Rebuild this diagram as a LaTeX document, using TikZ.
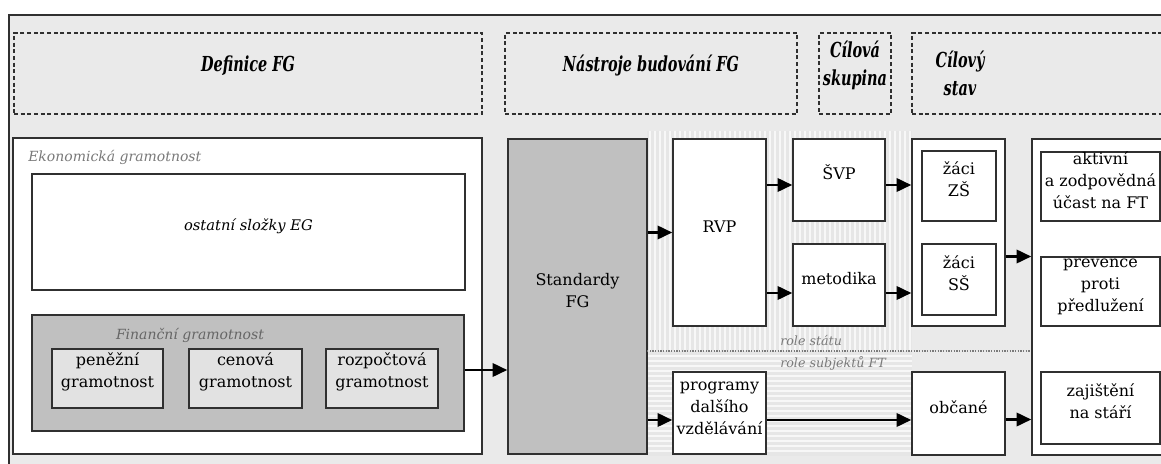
\documentclass[tikz,border=0pt]{standalone}
\usepackage{fontspec}
\setmainfont{DejaVu Serif}
\newfontfamily\hdrfamily[FakeStretch=0.7]{DejaVu Serif}
\usetikzlibrary{fit,arrows.meta,calc}
\definecolor{bgc}{HTML}{EAEAEA}
\definecolor{stripebg}{HTML}{E6E6E6}
\definecolor{stripeln}{HTML}{F7F7F7}
\definecolor{boxline}{HTML}{303030}
\definecolor{stdgrey}{HTML}{C0C0C0}
\definecolor{subgrey}{HTML}{E2E2E2}
\definecolor{labgrey}{HTML}{7A7A7A}
\definecolor{findark}{HTML}{666666}
\tikzset{fgtip/.tip={Triangle[length=11pt,width=10pt]}}
\begin{document}
\begin{tikzpicture}[x=0.75pt,y=-0.75pt,
  rect/.style={draw=boxline, line width=1.1pt, fill=white, inner sep=0pt, align=center,
    font=\fontsize{12}{16.5}\selectfont},
  hdr/.style={draw=boxline, line width=0.8pt, dash pattern=on 3pt off 2pt, fill=bgc,
    inner sep=0pt, align=center, font=\hdrfamily\bfseries\itshape\fontsize{15.5}{21}\selectfont},
  hdrtext/.style={align=center, font=\hdrfamily\bfseries\itshape\fontsize{15.5}{21}\selectfont},
  greylab/.style={text=labgrey, font=\itshape\fontsize{10.5}{12}\selectfont, inner sep=0pt},
  rolelab/.style={text=labgrey, font=\itshape\fontsize{9.5}{11}\selectfont, inner sep=0pt, anchor=west},
  arr/.style={draw=black, line width=1.9pt, -fgtip}
]
\useasboundingbox (0,0) rectangle (1161,464);
% background and frame
\fill[bgc] (9,15) rectangle (1161,464);
\draw[boxline, line width=1.1pt] (9,464) -- (9,15) -- (1161,15);
% striped zones
\fill[stripebg] (647,131) rectangle (912,351);
\foreach \x in {650,655,...,910} \draw[stripeln, line width=1.2pt] (\x,131) -- (\x,351);
\fill[stripebg] (647,351) rectangle (912,456);
\foreach \y in {356,361,...,455} \draw[stripeln, line width=1.2pt] (647,\y) -- (912,\y);

% headers
\node[hdr, fit={(14,33)(482,114)}] (h1) {Definice FG};
\node[hdr, fit={(505,33)(797,114)}] (h2) {Nástroje budování FG};
\node[hdr, fit={(819,33)(891,114)}] (h3) {Cílová\\skupina};
\node[hdr, fit={(912,33)(1170,114)}] (h4) {};
\node[hdrtext] (h4t) at (960,73) {Cílový\\stav};

% left block
\node[rect, fit={(13,138)(482,454)}] (ekon) {};
\node[greylab, anchor=west] (ekonlab) at (28,157) {Ekonomická gramotnost};
\node[rect, fit={(32,174)(465,290)}, font=\itshape\fontsize{11}{13}\selectfont] (ost) {ostatní složky EG};
\node[rect, fill=stdgrey, fit={(32,315)(464,431)}] (fin) {};
\node[greylab, text=findark] (finlab) at (190,335) {Finanční gramotnost};
\node[rect, fill=subgrey, fit={(52,349)(163,408)}] (pen) {peněžní\\gramotnost};
\node[rect, fill=subgrey, fit={(189,349)(302,408)}] (cen) {cenová\\gramotnost};
\node[rect, fill=subgrey, fit={(326,349)(438,408)}] (roz) {rozpočtová\\gramotnost};

% tools
\node[rect, fill=stdgrey, fit={(508,139)(647,454)}] (std) {Standardy\\FG};
\node[rect, fit={(673,139)(766,326)}] (rvp) {RVP};
\node[rect, fit={(793,139)(885,221)}] (svp) {ŠVP};
\node[rect, fit={(793,244)(885,326)}] (met) {metodika};
\node[rect, fit={(673,372)(766,454)}] (prog) {programy\\dalšího\\vzdělávání};

% role divider
\coordinate (div) at (647,351);
\draw[labgrey, line width=1pt, dash pattern=on 1pt off 1pt] (div) -- (1032,351);
\node[rolelab] (rs) at (780,341) {role státu};
\node[rolelab] (rft) at (780,363) {role subjektů FT};

% target group
\node[rect, fit={(912,139)(1005,326)}] (skup) {};
\node[rect, fit={(922,151)(996,221)}] (zs) {žáci\\ZŠ};
\node[rect, fit={(922,244)(996,315)}] (ss) {žáci\\SŠ};
\node[rect, fit={(912,372)(1005,455)}] (obc) {občané};

% target state
\node[rect, fit={(1032,139)(1175,455)}] (stav) {};
\node[rect, fit={(1041,152)(1160,221)}] (akt) {aktivní\\a zodpovědná\\účast na FT};
\node[rect, fit={(1041,257)(1160,326)}] (prev) {prevence\\proti\\předlužení};
\node[rect, fit={(1041,372)(1160,444)}] (zaj) {zajištění\\na stáří};

% connectors
\draw[arr] ($(fin.east)+(0,-3)$) -- ($(fin.east -| std.west)+(0,-3)$);
\draw[arr] (std.east |- rvp.west) -- (rvp.west);
\draw[arr] ($(rvp.east |- svp.west)+(0,5)$) -- ($(svp.west)+(0,5)$);
\draw[arr] ($(rvp.east |- met.west)+(0,8)$) -- ($(met.west)+(0,8)$);
\draw[arr] ($(svp.east)+(0,5)$) -- ($(svp.east -| skup.west)+(0,5)$);
\draw[arr] ($(met.east)+(0,8)$) -- ($(met.east -| skup.west)+(0,8)$);
\draw[arr] ($(skup.east)+(0,24)$) -- ($(skup.east -| stav.west)+(0,24)$);
\draw[arr] ($(std.east |- prog.west)+(0,7)$) -- ($(prog.west)+(0,7)$);
\draw[arr] ($(prog.east)+(0,7)$) -- ($(prog.east -| obc.west)+(0,7)$);
\draw[arr] ($(obc.east)+(0,6)$) -- ($(obc.east -| stav.west)+(0,6)$);
\end{tikzpicture}
\end{document}
